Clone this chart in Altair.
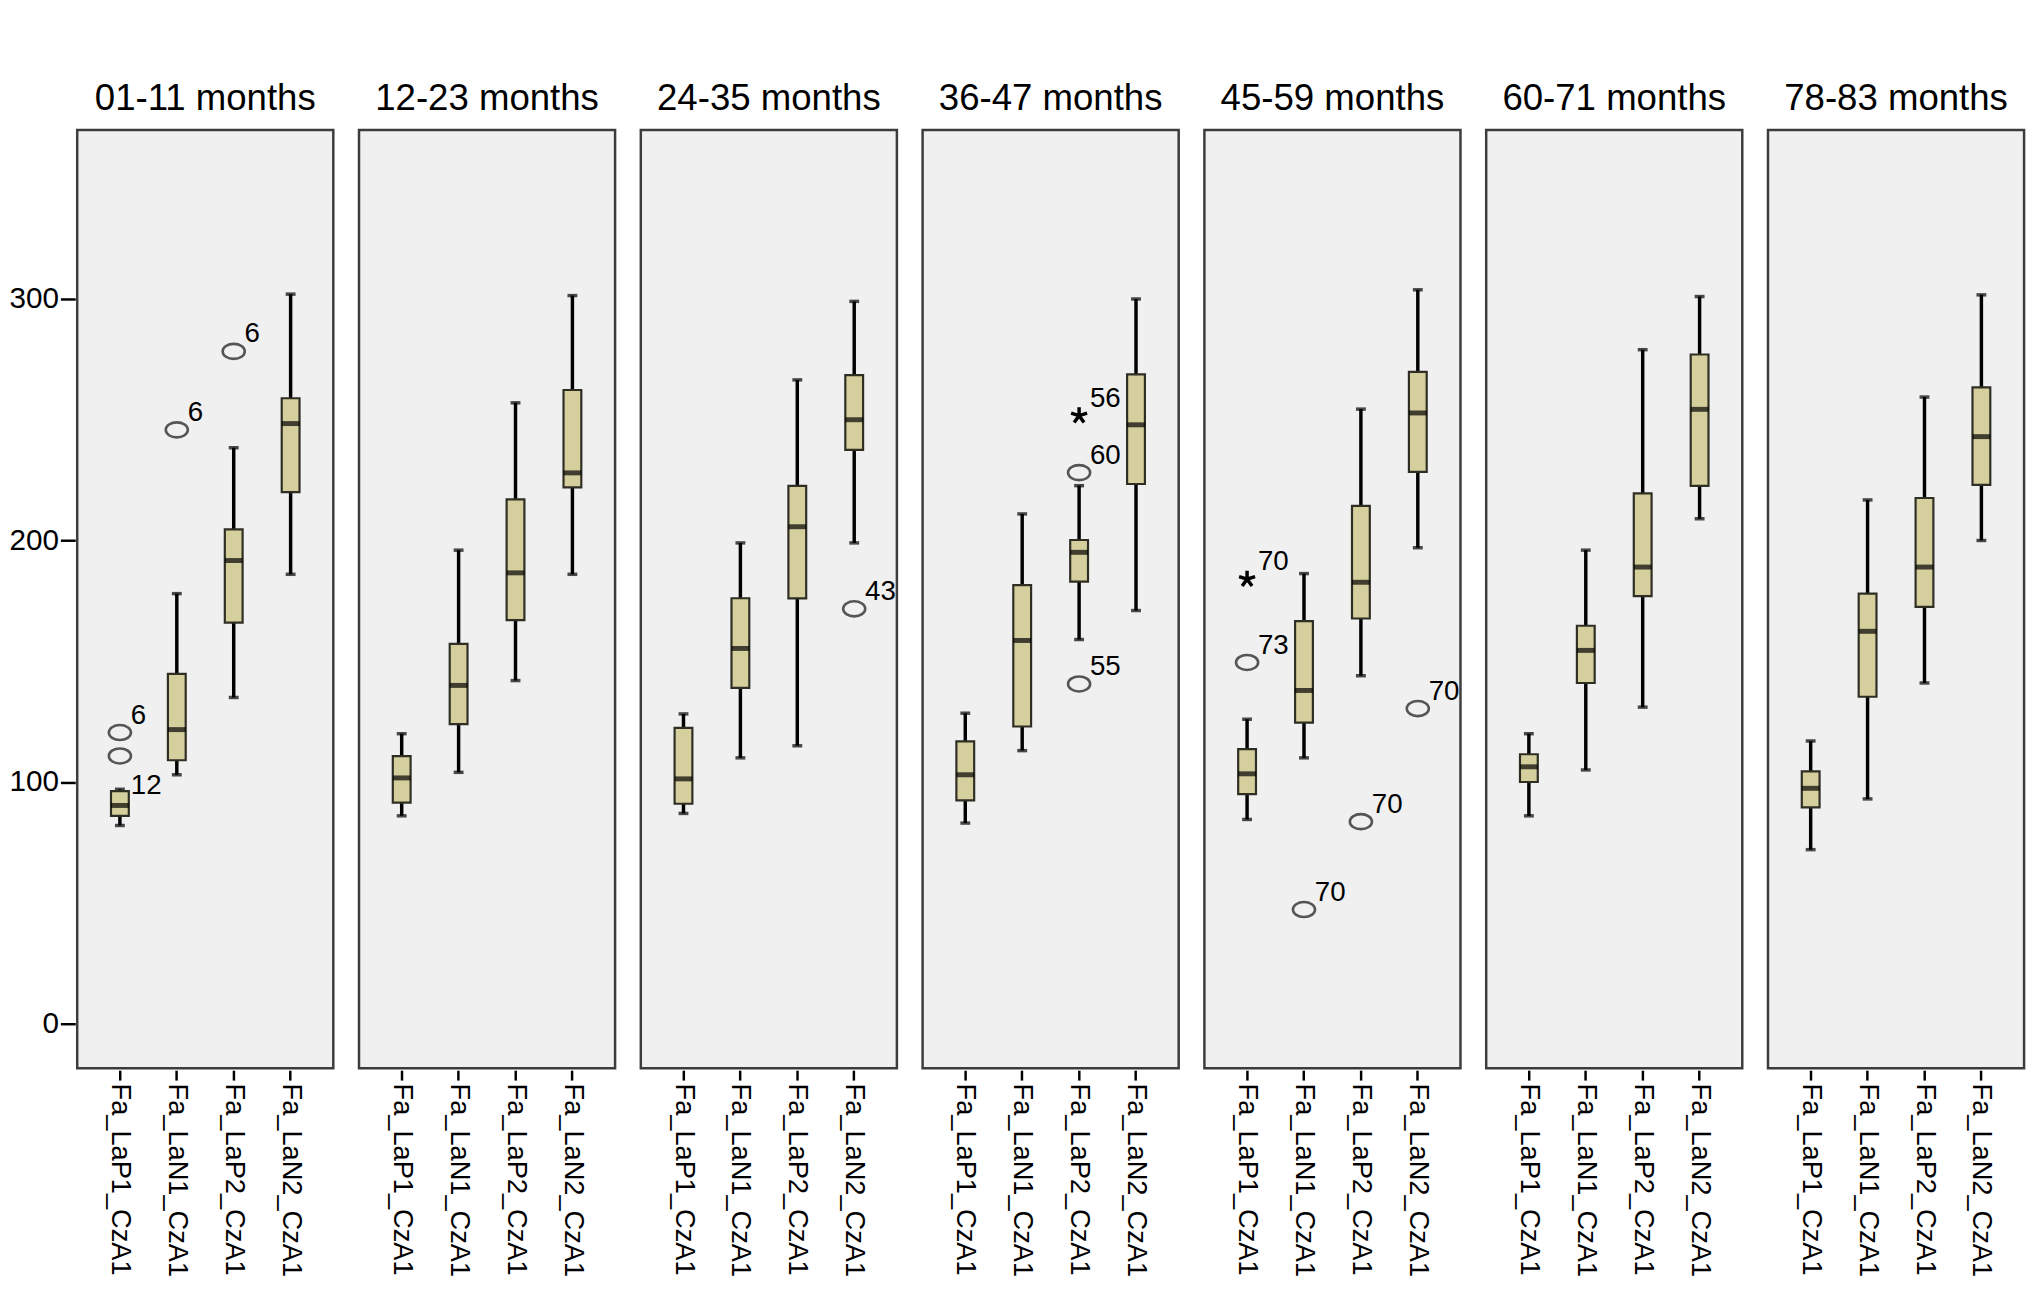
import altair as alt
import pandas as pd

FONT = "Liberation Sans"

groups = ["01-11 months", "12-23 months", "24-35 months", "36-47 months",
          "45-59 months", "60-71 months", "78-83 months"]
variables = ["Fa_LaP1_CzA1", "Fa_LaN1_CzA1", "Fa_LaP2_CzA1", "Fa_LaN2_CzA1"]

# per group, per variable (LaP1, LaN1, LaP2, LaN2)
lower_whisker = [
    [82, 103, 135, 186],
    [86, 104, 142, 186],
    [87, 110, 115, 199],
    [83, 113, 159, 171],
    [84.5, 110, 144, 197],
    [86, 105, 131, 209],
    [72, 93, 141, 200],
]
q1 = [
    [86, 109, 166, 220],
    [91.5, 124, 167, 222],
    [91, 139, 176, 237.5],
    [92.4, 123, 183, 223.4],
    [95, 124.6, 167.7, 228.4],
    [100, 141, 177, 222.6],
    [89.5, 135.3, 172.5, 223],
]
median = [
    [90.3, 121.7, 191.7, 248.4],
    [101.7, 140, 186.6, 228],
    [101.3, 155.3, 205.7, 250],
    [103, 158.6, 195.1, 247.9],
    [103.4, 137.9, 182.7, 252.8],
    [106.3, 154.5, 189, 254.3],
    [97.4, 162.4, 189, 243],
]
q3 = [
    [96.2, 144.8, 204.6, 258.9],
    [110.7, 157.2, 217, 262.3],
    [122.4, 176.1, 222.6, 268.5],
    [116.8, 181.5, 200.2, 268.8],
    [113.6, 166.6, 214.3, 269.8],
    [111.5, 164.7, 219.5, 277],
    [104.4, 178, 217.6, 263.4],
]
upper_whisker = [
    [97, 178, 238.4, 302],
    [120, 196, 257, 301.4],
    [128.2, 199, 266.5, 299],
    [128.5, 211, 222.7, 300],
    [126, 186.3, 254.4, 303.8],
    [120, 196, 279, 301],
    [117, 216.8, 259.4, 301.7],
]

# outliers: group, variable, value, case label, marker kind, label placement
out_group = ["01-11 months", "01-11 months", "01-11 months", "01-11 months",
             "24-35 months", "36-47 months", "36-47 months", "36-47 months",
             "45-59 months", "45-59 months", "45-59 months", "45-59 months",
             "45-59 months"]
out_var = ["Fa_LaP1_CzA1", "Fa_LaP1_CzA1", "Fa_LaN1_CzA1", "Fa_LaP2_CzA1",
           "Fa_LaN2_CzA1", "Fa_LaP2_CzA1", "Fa_LaP2_CzA1", "Fa_LaP2_CzA1",
           "Fa_LaP1_CzA1", "Fa_LaP1_CzA1", "Fa_LaN1_CzA1", "Fa_LaP2_CzA1",
           "Fa_LaN2_CzA1"]
out_value = [120.5, 110.8, 245.8, 278.3, 171.7, 251.7, 228.1, 140.6,
             184, 149.5, 47.2, 83.6, 130.4]
out_label = ["6", "12", "6", "6", "43", "56", "60", "55",
             "70", "73", "70", "70", "70"]
out_kind = ["circle", "circle", "circle", "circle", "circle", "star", "circle",
            "circle", "star", "circle", "circle", "circle", "circle"]
out_place = ["ne", "se", "ne", "ne", "ne", "ne", "ne", "ne",
             "ne", "ne", "ne", "ne", "ne"]

rows = []
for gi, g in enumerate(groups):
    for vi, v in enumerate(variables):
        rows.append(dict(kind="box", group=g, var=v,
                         lo=lower_whisker[gi][vi], q1=q1[gi][vi],
                         med=median[gi][vi], q3=q3[gi][vi],
                         hi=upper_whisker[gi][vi]))
for g, v, val, lab, k, p in zip(out_group, out_var, out_value, out_label,
                                out_kind, out_place):
    rows.append(dict(kind="out", group=g, var=v, value=val, label=lab,
                     shape=k, place=p))
df = pd.DataFrame(rows)

x_enc = alt.X("var:N", sort=variables,
              scale=alt.Scale(domain=variables, paddingInner=0, paddingOuter=0.25),
              axis=alt.Axis(title=None, labelAngle=90, labelFontSize=27.5,
                            labelFont=FONT, labelColor="black", domain=False,
                            ticks=True, tickSize=10, tickColor="black",
                            tickWidth=2.5, labelPadding=3, labelLimit=0))
y_scale = alt.Scale(domain=[-18.5, 370], nice=False, zero=False)
y_axis = alt.Axis(title=None, values=[0, 100, 200, 300], labelFontSize=30,
                  labelFont=FONT, labelColor="black", domain=False,
                  tickSize=15, tickColor="black", tickWidth=2.5,
                  labelPadding=2, grid=False)

def Y(field):
    return alt.Y(field, scale=y_scale, axis=y_axis)

base = alt.Chart()
is_box = "datum.kind == 'box'"

whisker = base.mark_rule(color="black", strokeWidth=3.5).encode(
    x=x_enc, y=Y("lo:Q"), y2="hi:Q").transform_filter(is_box)
cap_lo = base.mark_tick(color="black", size=10, thickness=3.5).encode(
    x=x_enc, y=Y("lo:Q")).transform_filter(is_box)
cap_hi = base.mark_tick(color="black", size=10, thickness=3.5).encode(
    x=x_enc, y=Y("hi:Q")).transform_filter(is_box)
box = base.mark_bar(size=18, fill="#d5cf9d", stroke="#2e2e24",
                    strokeWidth=2.2).encode(
    x=x_enc, y=Y("q1:Q"), y2="q3:Q").transform_filter(is_box)
med = base.mark_tick(color="black", size=18, thickness=5).encode(
    x=x_enc, y=Y("med:Q")).transform_filter(is_box)

ellipse = "M-1,0A1,0.68,0,1,1,1,0A1,0.68,0,1,1,-1,0Z"
asterisk = ("M0,0L0,-1M0,0L0.951,-0.309M0,0L0.588,0.809"
            "M0,0L-0.588,0.809M0,0L-0.951,-0.309")

circles = base.mark_point(shape=ellipse, filled=False, stroke="#555555",
                          strokeWidth=2.6, size=500, opacity=1).encode(
    x=x_enc, y=Y("value:Q")).transform_filter(
    "datum.kind == 'out' && datum.shape == 'circle'")
stars = base.mark_point(shape=asterisk, filled=False, stroke="black",
                        strokeWidth=3.5, size=289, opacity=1).encode(
    x=x_enc, y=Y("value:Q")).transform_filter(
    "datum.kind == 'out' && datum.shape == 'star'")

labels_ne = base.mark_text(align="left", baseline="alphabetic", dx=11, dy=-9,
                           fontSize=28, font=FONT, color="black",
                           clip=True).encode(
    x=x_enc, y=Y("value:Q"), text="label:N").transform_filter(
    "datum.kind == 'out' && datum.place == 'ne'")
labels_se = base.mark_text(align="left", baseline="alphabetic", dx=11, dy=38,
                           fontSize=28, font=FONT, color="black",
                           clip=True).encode(
    x=x_enc, y=Y("value:Q"), text="label:N").transform_filter(
    "datum.kind == 'out' && datum.place == 'se'")

layered = alt.layer(whisker, cap_lo, cap_hi, box, med, circles, stars,
                    labels_ne, labels_se, data=df).properties(width=259,
                                                              height=949)

chart = layered.facet(
    column=alt.Column("group:N", sort=groups, title=None,
                      header=alt.Header(labelFontSize=37, labelFont=FONT,
                                        labelColor="black", labelPadding=10,
                                        labelOrient="top")),
    spacing=22,
).properties(
    padding={"left": 0, "top": 66, "right": 5, "bottom": 5}
).configure_view(
    fill="#f0f0f0", stroke="#3c3c3c", strokeWidth=2.5
)

chart.save("out.html", embed_options={"renderer": "svg", "actions": False})
